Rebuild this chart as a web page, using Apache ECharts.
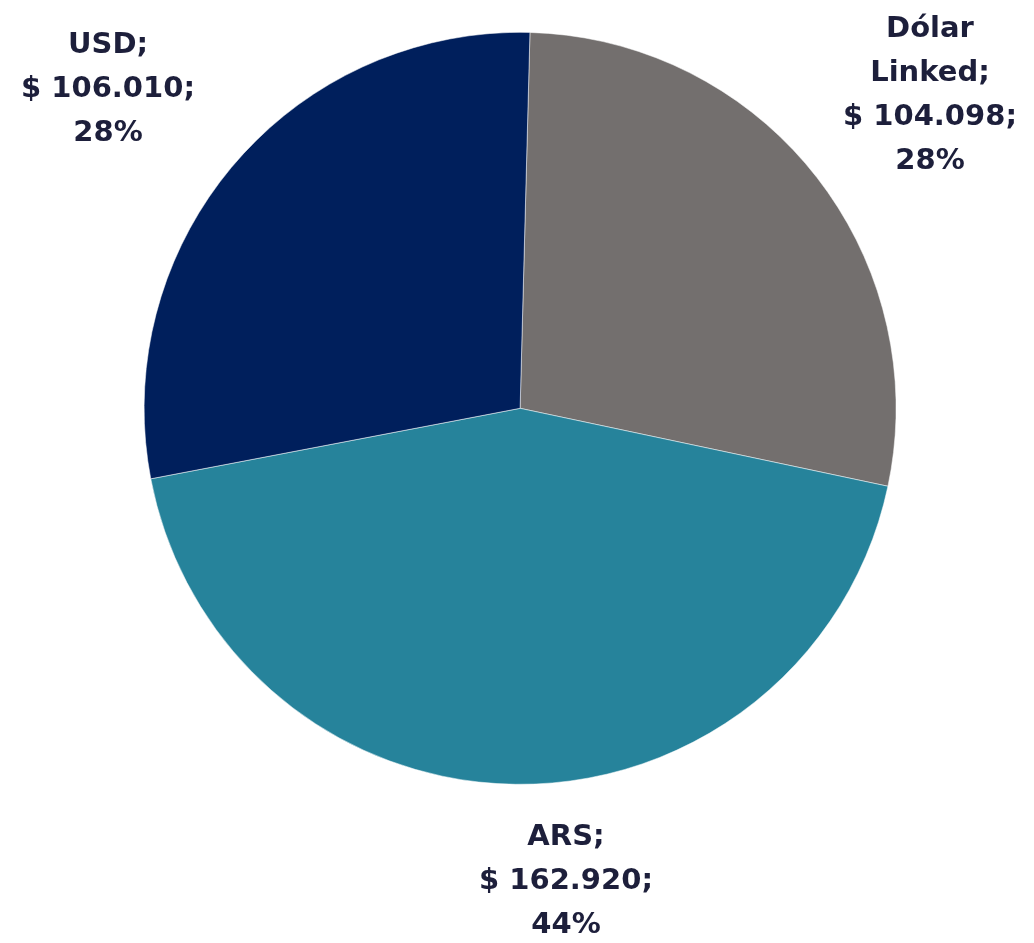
<!DOCTYPE html>
<html>
<head>
<meta charset="utf-8">
<script src="https://cdn.jsdelivr.net/npm/echarts@6/dist/echarts.min.js"></script>
<style>
  html, body { margin: 0; padding: 0; background: #fff; }
  #chart { width: 1034px; height: 943px; }
</style>
</head>
<body>
<div id="chart"></div>
<script>
// slices in clockwise order, starting from the top
const categories = ['Dólar Linked', 'ARS', 'USD'];
const amounts = [104098, 162920, 106010];
const colors = ['#736f6e', '#26839b', '#001f5c'];

// where each label block is centred (px in the 1034x943 canvas)
const labelSpots = [[930, 95], [566, 881], [108, 89]];

const chart = echarts.init(document.getElementById('chart'), null, { renderer: 'canvas' });

const fmtNum = v => v.toLocaleString('de-DE');

const option = {
  animation: false,
  backgroundColor: '#ffffff',
  series: [{
    type: 'pie',
    center: ['50.3%', '43.3%'],
    radius: 376,
    startAngle: 88.5,
    clockwise: true,
    avoidLabelOverlap: false,
    data: categories.map((name, i) => ({
      name,
      value: amounts[i],
      itemStyle: { color: colors[i] }
    })),
    itemStyle: { borderColor: '#ffffff', borderWidth: 0.5 },
    label: {
      show: true,
      position: 'outside',
      alignTo: 'none',
      color: '#1d1f3b',
      fontFamily: 'DejaVu Sans',
      fontWeight: 'bold',
      fontSize: 29,
      lineHeight: 44,
      formatter: p => p.name.replace(' ', '\n') + ';\n$ ' + fmtNum(p.value) + ';\n' + Math.round(p.percent) + '%'
    },
    labelLine: { show: false },
    labelLayout: p => ({
      x: labelSpots[p.dataIndex][0],
      y: labelSpots[p.dataIndex][1],
      align: 'center',
      verticalAlign: 'middle'
    })
  }]
};

chart.setOption(option);
</script>
</body>
</html>
